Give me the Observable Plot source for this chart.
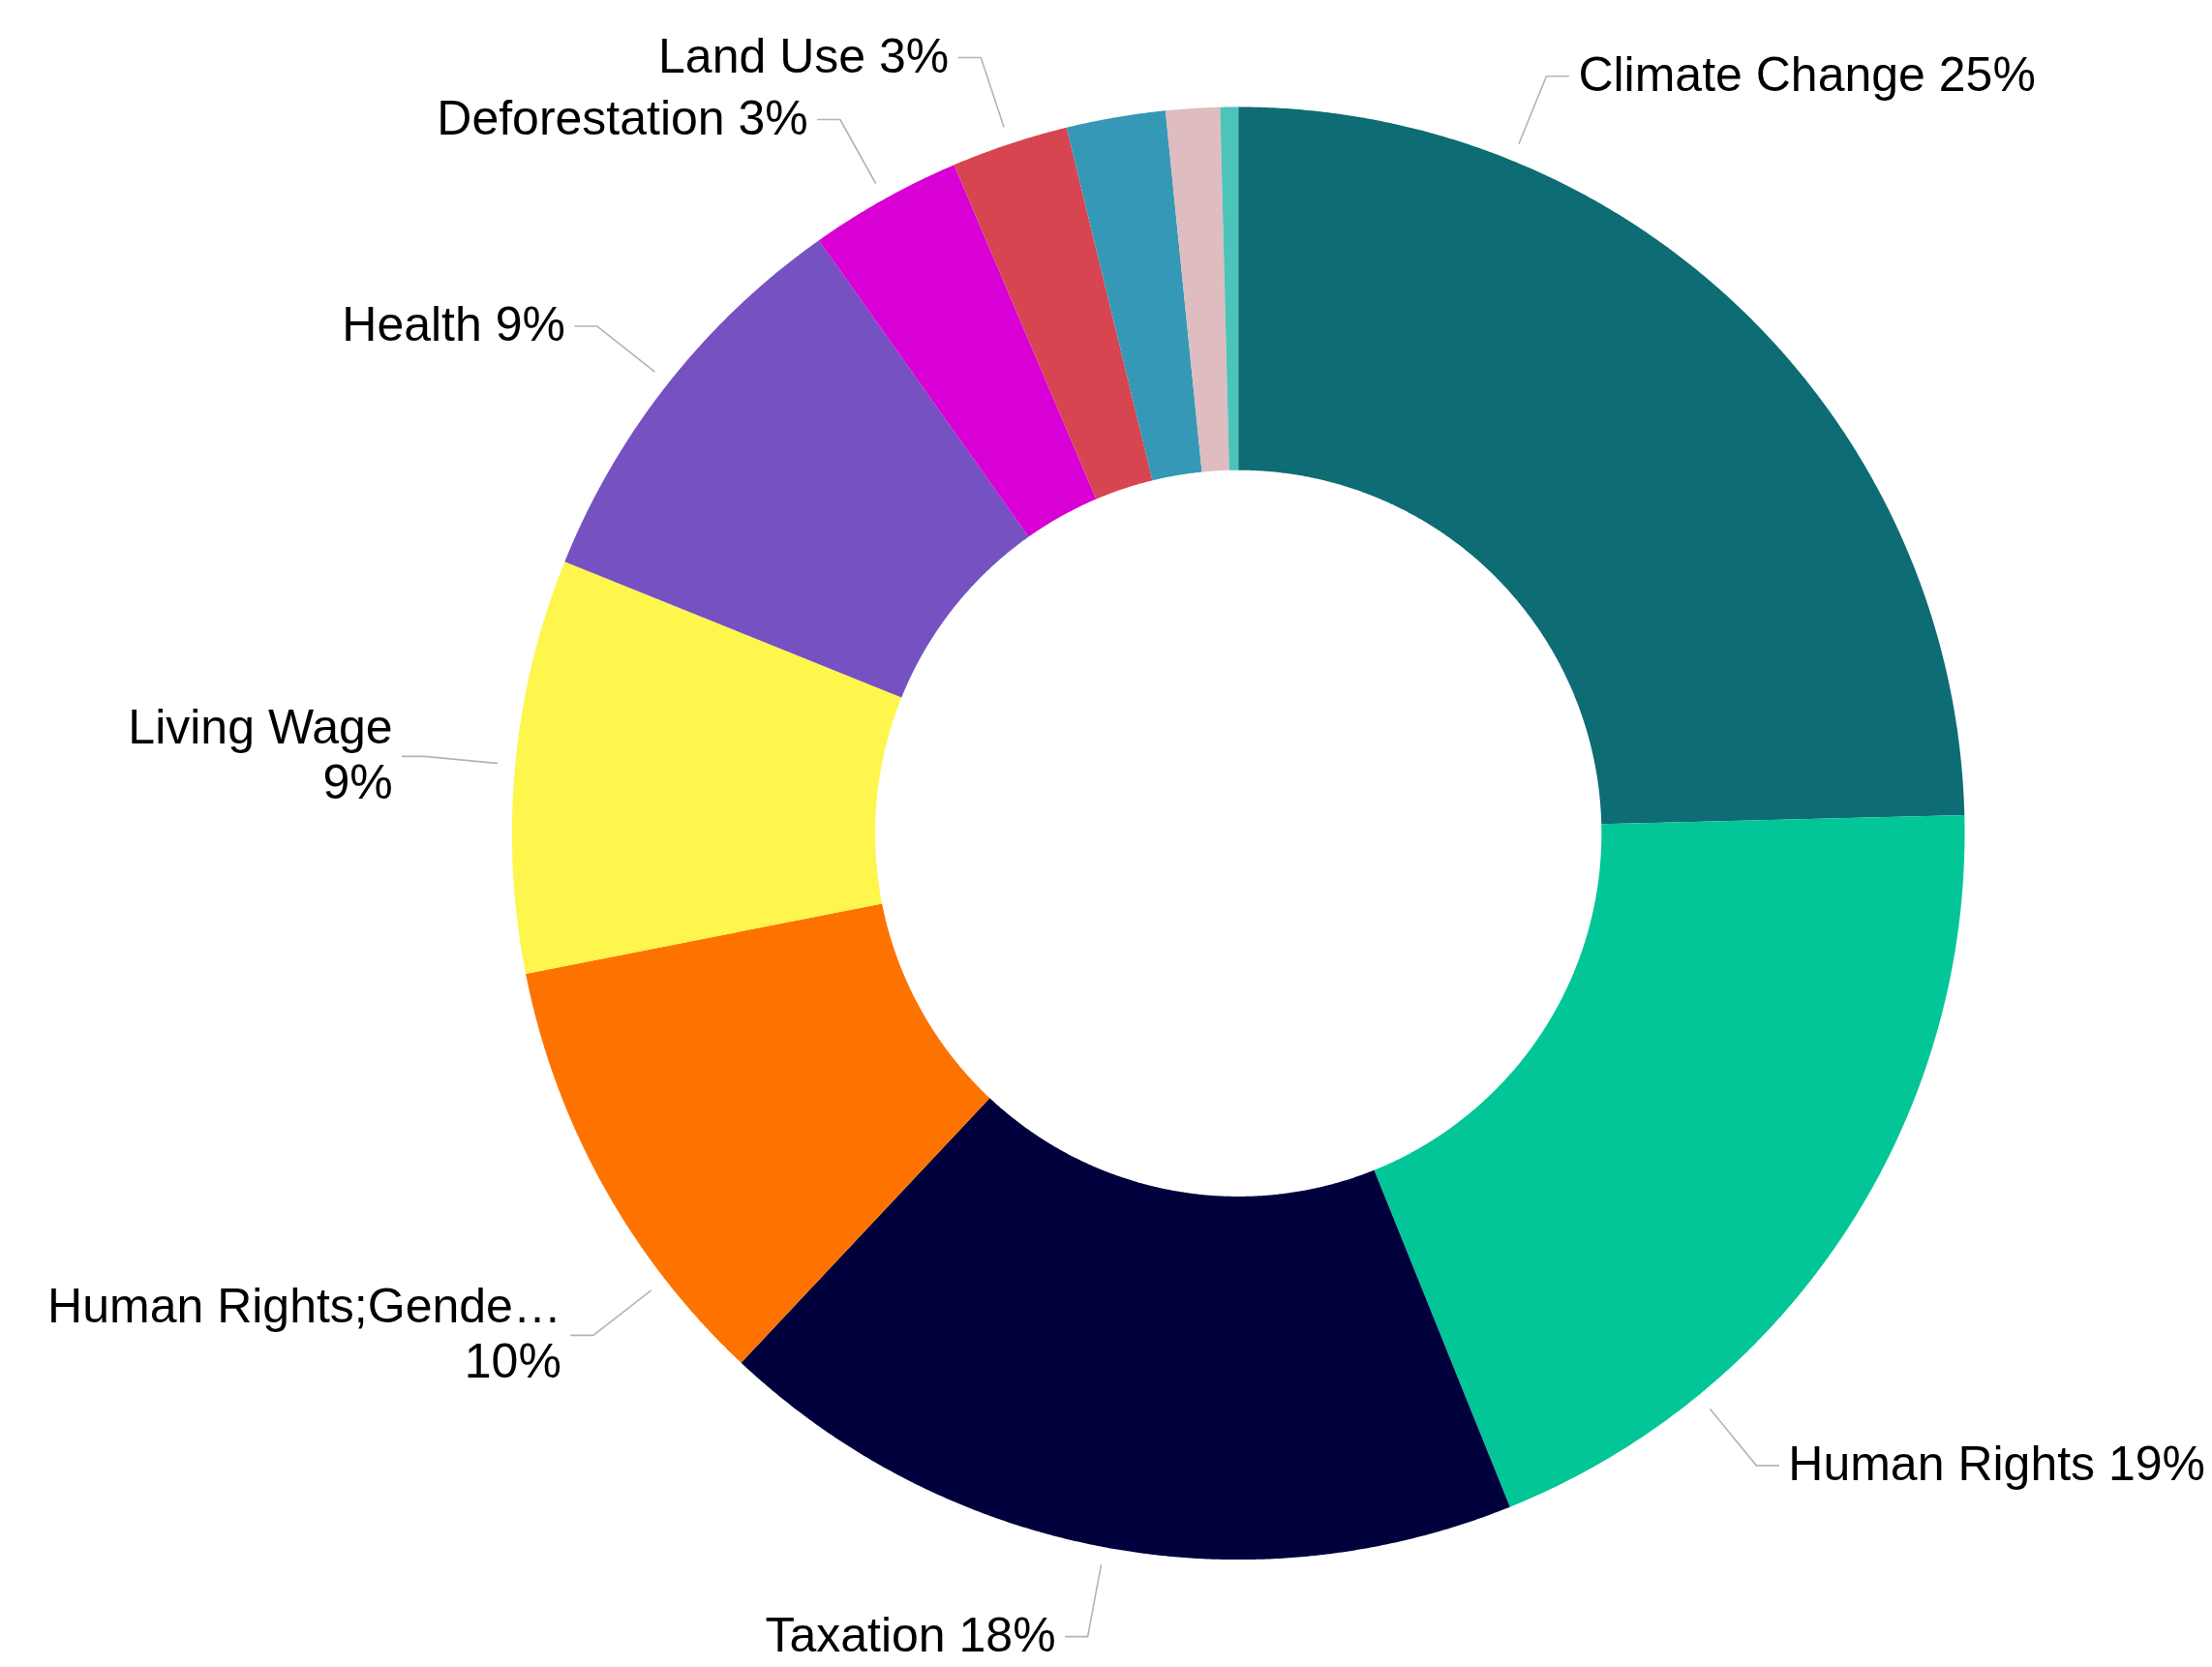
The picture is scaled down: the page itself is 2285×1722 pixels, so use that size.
<!DOCTYPE html>
<html>
<head>
<meta charset="utf-8">
<script src="https://cdn.jsdelivr.net/npm/d3@7"></script>
<script src="https://cdn.jsdelivr.net/npm/@observablehq/plot@0.6"></script>
<style>
  html, body { margin: 0; padding: 0; background: #ffffff; }
  #chart svg { display: block; }
</style>
</head>
<body>
<div id="chart"></div>
<script>
// ---- Data ----
const categories = [
  "Climate Change", "Human Rights", "Taxation", "Human Rights;Gender",
  "Living Wage", "Health", "Deforestation", "Land Use",
  "Other A", "Other B", "Other C"
];
const values = [24.6, 19.3, 18.1, 9.9, 9.2, 9.1, 3.4, 2.6, 2.2, 1.2, 0.4];
const labelNames = [
  "Climate Change", "Human Rights", "Taxation", "Human Rights;Gende\u2026",
  "Living Wage", "Health", "Deforestation", "Land Use",
  null, null, null
];

// ---- Styles / layout ----
const colors = [
  "#0d6c74", "#02c697", "#00003d", "#fe7300",
  "#fef54d", "#7551c1", "#d800d5", "#d64550",
  "#3598b6", "#debcbf", "#4cc4b9"
];
const labelWrap = [false, false, false, true, true, false, false, false, false, false, false];
const labelAnchor = [0.25, 0.75, 0.5, 0.25, 0.5, 0.5, 0.5, 0.5, null, null, null];

const W = 2285, H = 1722;
const CX = 1278.7, CY = 860.3, R = 750.3, INNER = 0.5;
const LEAD_START = 19, LEAD_ELBOW = 94, LEAD_H = 23;

const total = d3.sum(values);
const arcs = d3.pie().sort(null).value(d => d)(values);

// slice polygons (in units of the outer radius, y up)
const slicePts = [];
arcs.forEach((a, i) => {
  const step = Math.PI / 720;
  const n = Math.max(2, Math.ceil((a.endAngle - a.startAngle) / step));
  const outer = d3.range(n + 1).map(k => a.startAngle + (a.endAngle - a.startAngle) * k / n);
  outer.forEach(t => slicePts.push({cat: categories[i], x: Math.sin(t), y: Math.cos(t)}));
  outer.slice().reverse().forEach(t => slicePts.push({cat: categories[i], x: INNER * Math.sin(t), y: INNER * Math.cos(t)}));
});

// leader lines and labels
const leaderPts = [];
const labels = [];
arcs.forEach((a, i) => {
  if (labelAnchor[i] == null) return;
  const t = a.startAngle + (a.endAngle - a.startAngle) * labelAnchor[i];
  const r1 = 1 + LEAD_START / R, r2 = 1 + LEAD_ELBOW / R;
  const side = Math.sin(t) >= 0 ? 1 : -1;
  const ex = r2 * Math.sin(t), ey = r2 * Math.cos(t);
  const hx = ex + side * LEAD_H / R;
  leaderPts.push({cat: categories[i], x: r1 * Math.sin(t), y: r1 * Math.cos(t)});
  leaderPts.push({cat: categories[i], x: ex, y: ey});
  leaderPts.push({cat: categories[i], x: hx, y: ey});
  const pct = Math.round(values[i] / total * 100) + "%";
  labels.push({
    side,
    x: hx, y: ey,
    text: labelNames[i] + (labelWrap[i] ? "\n" : " ") + pct
  });
});

const textOpts = {
  x: "x", y: "y", text: "text",
  fontSize: 50, lineHeight: 1.15, fill: "#000000", lineAnchor: "middle", dy: -3
};

const chart = Plot.plot({
  width: W,
  height: H,
  margin: 0,
  x: {domain: [-CX / R, (W - CX) / R], axis: null},
  y: {domain: [-(H - CY) / R, CY / R], axis: null},
  color: {domain: categories, range: colors},
  style: {background: "#ffffff", fontFamily: "'Liberation Sans', Arial, sans-serif"},
  marks: [
    Plot.line(slicePts, {x: "x", y: "y", z: "cat", fill: "cat", stroke: "none", curve: "linear-closed"}),
    Plot.line(leaderPts, {x: "x", y: "y", z: "cat", stroke: "#b4b4b4", strokeWidth: 1.6}),
    Plot.text(labels.filter(d => d.side > 0), {...textOpts, textAnchor: "start", dx: 10}),
    Plot.text(labels.filter(d => d.side < 0), {...textOpts, textAnchor: "end", dx: -10})
  ]
});

document.getElementById("chart").appendChild(chart);
</script>
</body>
</html>
